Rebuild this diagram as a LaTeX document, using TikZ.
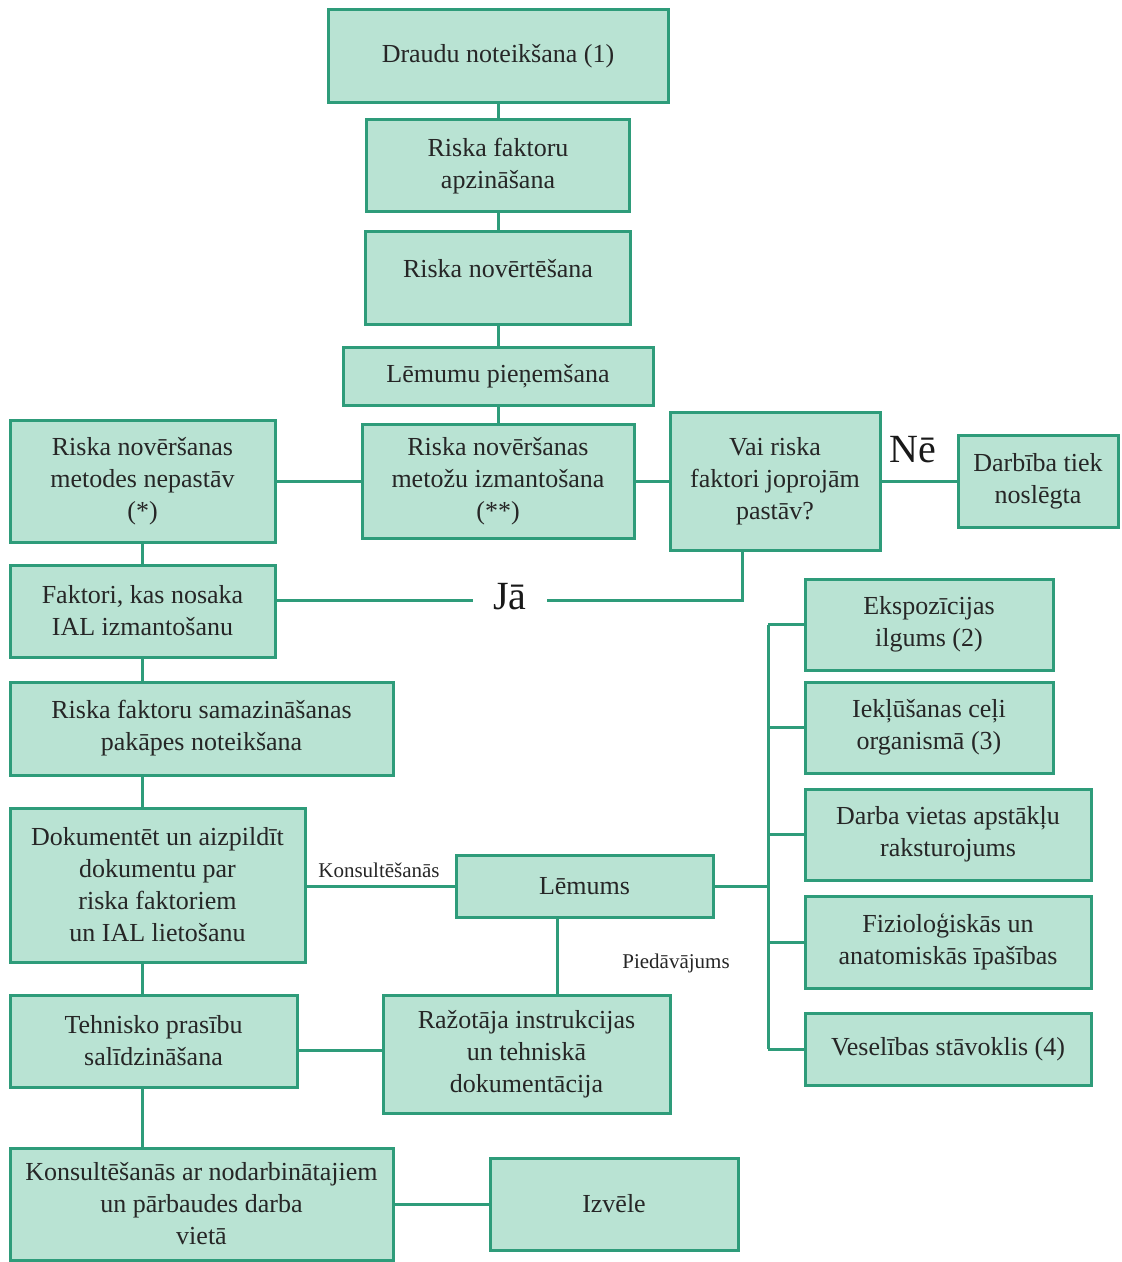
\documentclass[tikz,border=0pt]{standalone}
\usepackage{fontspec}
\setmainfont{Liberation Serif}
\definecolor{boxfill}{HTML}{B9E3D3}
\definecolor{boxline}{HTML}{2E9C7A}
\tikzset{
  box/.style={draw=boxline, fill=boxfill, line width=1.5pt, align=center,
    inner sep=2pt, text=black!85, font=\fontsize{13}{16}\selectfont},
  link/.style={draw=boxline, line width=1.5pt},
  bigtag/.style={font=\fontsize{20}{22}\selectfont, text=black!90, inner ysep=1pt, inner xsep=10pt},
  smalltag/.style={font=\fontsize{10.5}{12}\selectfont, text=black!85, inner sep=1pt},
}

\begin{document}
\begin{tikzpicture}[x=0.5pt,y=-0.5pt]
  \useasboundingbox (0,0) rectangle (1122,1262);
  %middle column
  \node[box, minimum width=170pt, minimum height=46.5pt] (draudu) at (498,56.5) {Draudu noteikšana (1)};
  \node[box, minimum width=131.5pt, minimum height=46pt] (apzin) at (498,166) {Riska faktoru\\apzināšana};
  \node[box, minimum width=132.5pt, minimum height=46.5pt] (novert) at (498,278.5) {Riska novērtēšana\\[-6pt]};
  \node[box, minimum width=155pt, minimum height=28.5pt] (pienem) at (498,376.5) {Lēmumu pieņemšana};
  \node[box, minimum width=136pt, minimum height=57pt] (izmant) at (498,481) {Riska novēršanas\\metožu izmantošana\\(**)};
  \node[box, minimum width=105pt, minimum height=69pt] (vai) at (775,481) {Vai riska\\faktori joprojām\\pastāv?};
  \node[box, minimum width=80pt, minimum height=46pt] (darbiba) at (1038,481) {Darbība tiek\\noslēgta};
  %left column
  \node[box, minimum width=132.5pt, minimum height=61pt] (nepast) at (142.5,481) {Riska novēršanas\\metodes nepastāv\\(*)};
  \node[box, minimum width=132.5pt, minimum height=46pt] (faktori) at (142.5,611) {Faktori, kas nosaka\\IAL izmantošanu};
  \node[box, minimum width=191.5pt, minimum height=46.5pt] (samaz) at (201.5,728.5) {Riska faktoru samazināšanas\\pakāpes noteikšana};
  \node[box, minimum width=147.5pt, minimum height=77pt] (dokum) at (157.5,885) {Dokumentēt un aizpildīt\\dokumentu par\\riska faktoriem\\un IAL lietošanu};
  \node[box, minimum width=143.5pt, minimum height=46pt] (tehn) at (153.5,1041) {Tehnisko prasību\\salīdzināšana};
  \node[box, minimum width=191.5pt, minimum height=56pt] (konsult) at (201.5,1204) {Konsultēšanās ar nodarbinātajiem\\un pārbaudes darba\\vietā};
  %lower middle
  \node[box, minimum width=128.5pt, minimum height=31pt] (lemums) at (584.5,886) {Lēmums};
  \node[box, minimum width=143.5pt, minimum height=59pt] (razot) at (526.5,1054) {Ražotāja instrukcijas\\un tehniskā\\dokumentācija};
  \node[box, minimum width=124pt, minimum height=46pt] (izvele) at (614,1204) {Izvēle};
  %right column
  \node[box, minimum width=124pt, minimum height=45.5pt] (eksp) at (929,624.5) {Ekspozīcijas\\ilgums (2)};
  \node[box, minimum width=124pt, minimum height=45.5pt] (iekl) at (929,727.5) {Iekļūšanas ceļi\\organismā (3)};
  \node[box, minimum width=143pt, minimum height=45.5pt] (darba) at (948,834.5) {Darba vietas apstākļu\\raksturojums};
  \node[box, minimum width=143pt, minimum height=46pt] (fiziol) at (948,942) {Fizioloģiskās un\\anatomiskās īpašības};
  \node[box, minimum width=143pt, minimum height=36pt] (vesel) at (948,1049) {Veselības stāvoklis (4)};
  %labels
  \node[bigtag] (ne) at (913,450) {Nē};
  \node[bigtag] (ja) at (510,597) {Jā};
  \node[smalltag] (konsTag) at (379,870) {Konsultēšanās};
  \node[smalltag] (piedTag) at (676,963) {Piedāvājums};
  \coordinate (jaturn) at (742,600);
  \coordinate (bus) at (768,886);
  %links
  \draw[link] (draudu) -- (apzin) -- (novert) -- (pienem) -- (izmant);
  \draw[link] (nepast) -- (izmant) -- (vai) -- (darbiba);
  \draw[link] (faktori.east |- jaturn) -- (ja.west |- jaturn);
  \draw[link] (ja.east |- jaturn) -- (jaturn) -- (jaturn |- vai.south);
  \draw[link] (nepast.south) -- (faktori.north);
  \draw[link] (faktori.south) -- (faktori.south |- samaz.north);
  \draw[link] (faktori.south |- samaz.south) -- (faktori.south |- dokum.north);
  \draw[link] (faktori.south |- dokum.south) -- (faktori.south |- tehn.north);
  \draw[link] (faktori.south |- tehn.south) -- (faktori.south |- konsult.north);
  \draw[link] (dokum.east |- lemums) -- (lemums.west);
  \draw[link] (557,917) -- (557,995);
  \draw[link] (tehn.east |- 0,1050) -- (razot.west |- 0,1050);
  \draw[link] (konsult.east |- izvele) -- (izvele.west);
  \draw[link] (lemums.east) -- (bus);
  \draw[link] (eksp.west -| bus) -- (vesel.west -| bus);
  \foreach \b in {eksp,iekl,darba,fiziol,vesel}
    \draw[link] (\b.west) -- (\b.west -| bus);
\end{tikzpicture}
\end{document}
